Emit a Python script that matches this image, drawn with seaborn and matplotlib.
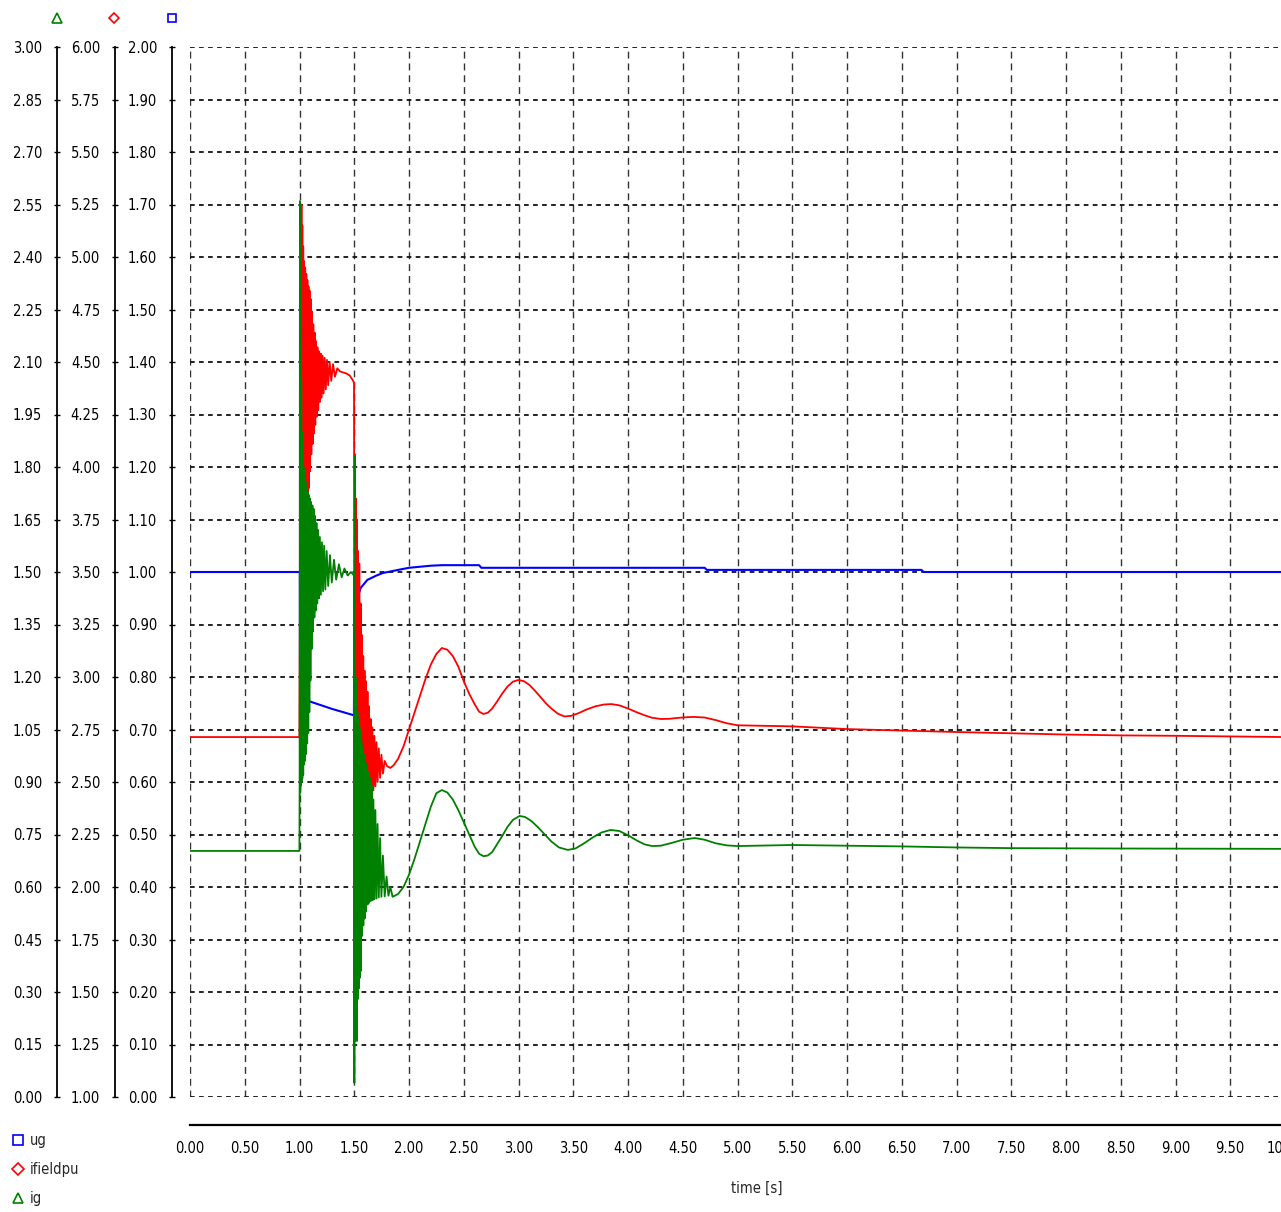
import os
import numpy as np
import pandas as pd
import matplotlib
matplotlib.use("Agg")
import matplotlib.pyplot as plt
import seaborn as sns
from matplotlib import font_manager
from matplotlib.lines import Line2D

# ---------------- data ----------------
ig_t = [0.0, 0.999, 1.001, 1.004, 1.007, 1.010, 1.013, 1.016, 1.019, 1.022, 1.026, 1.030,
        1.034, 1.038, 1.042, 1.046, 1.050, 1.055, 1.060, 1.065, 1.070, 1.075, 1.080, 1.085,
        1.090, 1.095, 1.100, 1.106, 1.112, 1.118, 1.124, 1.130, 1.136, 1.142, 1.148, 1.155,
        1.162, 1.170, 1.178, 1.186, 1.195, 1.205, 1.215, 1.225, 1.236, 1.248, 1.262, 1.278,
        1.295, 1.315, 1.335, 1.360, 1.385, 1.410, 1.440, 1.470, 1.497,
        1.501, 1.505, 1.509, 1.513, 1.517, 1.521, 1.525, 1.529, 1.533, 1.537, 1.541, 1.545,
        1.550, 1.555, 1.560, 1.565, 1.571, 1.577, 1.583, 1.589, 1.595, 1.601, 1.608, 1.615,
        1.622, 1.629, 1.636, 1.643, 1.651, 1.659, 1.667, 1.675, 1.684, 1.693, 1.703, 1.713,
        1.724, 1.736, 1.748, 1.762, 1.778, 1.795, 1.812, 1.830, 1.850,
        1.90, 1.95, 2.00, 2.05, 2.10, 2.15, 2.20, 2.25, 2.30, 2.35, 2.40, 2.45, 2.50, 2.55,
        2.60, 2.64, 2.68, 2.72, 2.76, 2.80, 2.85, 2.90, 2.95, 3.01, 3.06, 3.12, 3.18, 3.24,
        3.30, 3.37, 3.45, 3.52, 3.60, 3.68, 3.76, 3.84, 3.92, 4.00, 4.08, 4.15, 4.22, 4.30,
        4.40, 4.50, 4.61, 4.70, 4.80, 4.90, 5.00, 5.50, 6.00, 6.50, 7.00, 7.50, 8.50, 10.0]
ig_v = [0.703, 0.703, 0.88, 2.56, 0.87, 2.30, 0.89, 2.05, 0.90, 1.90, 0.91, 1.82,
        0.92, 1.80, 0.95, 1.77, 0.96, 1.76, 0.98, 1.74, 1.01, 1.73, 1.04, 1.72,
        1.10, 1.71, 1.19, 1.70, 1.28, 1.69, 1.33, 1.68, 1.37, 1.66, 1.39, 1.64,
        1.41, 1.62, 1.425, 1.60, 1.435, 1.585, 1.445, 1.575, 1.45, 1.56, 1.46, 1.548,
        1.47, 1.535, 1.478, 1.522, 1.485, 1.51, 1.49, 1.50, 1.49,
        0.04, 1.83, 0.16, 1.20, 0.22, 1.16, 0.16, 1.10, 0.28, 1.08, 0.31, 1.06,
        0.34, 1.05, 0.36, 1.02, 0.46, 1.00, 0.49, 0.98, 0.51, 0.96, 0.53, 0.95,
        0.55, 0.93, 0.555, 0.91, 0.56, 0.89, 0.562, 0.85, 0.565, 0.82, 0.567, 0.78,
        0.57, 0.74, 0.572, 0.69, 0.573, 0.63, 0.575, 0.60, 0.572,
        0.58, 0.60, 0.635, 0.68, 0.73, 0.78, 0.83, 0.868, 0.877, 0.87, 0.85, 0.82, 0.785, 0.75,
        0.715, 0.695, 0.688, 0.69, 0.70, 0.72, 0.745, 0.772, 0.792, 0.803, 0.80, 0.788, 0.77, 0.75,
        0.73, 0.713, 0.706, 0.71, 0.725, 0.742, 0.756, 0.763, 0.76, 0.748, 0.733, 0.722, 0.717, 0.718,
        0.726, 0.735, 0.74, 0.735, 0.725, 0.719, 0.717, 0.72, 0.718, 0.716, 0.713, 0.711, 0.710, 0.709]

if_t = [0.0, 0.999, 1.004, 1.010, 1.014, 1.018, 1.022, 1.026, 1.030, 1.034, 1.038, 1.042,
        1.047, 1.052, 1.057, 1.062, 1.067, 1.072, 1.077, 1.082, 1.087, 1.092, 1.097, 1.102,
        1.108, 1.114, 1.120, 1.126, 1.132, 1.138, 1.144, 1.150, 1.157, 1.164, 1.171, 1.178,
        1.186, 1.194, 1.202, 1.211, 1.220, 1.230, 1.240, 1.251, 1.262, 1.275, 1.290, 1.306,
        1.324, 1.345, 1.370, 1.400, 1.430, 1.460, 1.490, 1.498,
        1.503, 1.507, 1.511, 1.516, 1.520, 1.525, 1.530, 1.535, 1.540, 1.546, 1.552, 1.558,
        1.564, 1.570, 1.576, 1.582, 1.588, 1.594, 1.600, 1.607, 1.614, 1.621, 1.628, 1.635,
        1.642, 1.650, 1.658, 1.666, 1.675, 1.684, 1.693, 1.703, 1.713, 1.724, 1.736, 1.748,
        1.762, 1.778, 1.800, 1.830, 1.860,
        1.90, 1.95, 2.00, 2.05, 2.10, 2.15, 2.20, 2.25, 2.30, 2.35, 2.40, 2.45, 2.50, 2.55,
        2.60, 2.64, 2.68, 2.72, 2.76, 2.80, 2.85, 2.90, 2.95, 3.00, 3.05, 3.10, 3.15, 3.20,
        3.25, 3.30, 3.36, 3.42, 3.48, 3.55, 3.62, 3.70, 3.78, 3.85, 3.92, 4.00, 4.08, 4.15,
        4.22, 4.30, 4.38, 4.45, 4.52, 4.60, 4.70, 4.80, 4.90, 5.00, 5.20, 5.50, 6.00, 6.50,
        7.00, 7.50, 8.00, 8.50, 9.00, 10.0]
if_v = [2.714, 2.714, 3.34, 4.90, 3.40, 5.25, 3.36, 5.15, 3.40, 5.05, 3.50, 4.98,
        3.58, 4.95, 3.66, 4.92, 3.72, 4.89, 3.82, 4.86, 3.90, 4.84, 3.98, 4.80,
        4.06, 4.74, 4.11, 4.68, 4.16, 4.64, 4.20, 4.60, 4.24, 4.57, 4.27, 4.55,
        4.31, 4.54, 4.33, 4.53, 4.35, 4.52, 4.37, 4.51, 4.39, 4.50, 4.41, 4.49,
        4.43, 4.47, 4.455, 4.45, 4.445, 4.435, 4.41, 4.40,
        2.10, 4.06, 2.00, 3.85, 2.02, 3.75, 2.08, 3.60, 2.12, 3.54, 2.16, 3.35,
        2.22, 3.20, 2.27, 3.10, 2.30, 3.03, 2.32, 2.98, 2.34, 2.93, 2.37, 2.86,
        2.40, 2.80, 2.44, 2.76, 2.46, 2.72, 2.48, 2.69, 2.50, 2.66, 2.52, 2.63,
        2.54, 2.60, 2.575, 2.567, 2.58,
        2.61, 2.67, 2.75, 2.83, 2.91, 2.99, 3.06, 3.11, 3.138, 3.13, 3.10, 3.05, 2.98, 2.92,
        2.87, 2.835, 2.824, 2.83, 2.85, 2.88, 2.92, 2.955, 2.978, 2.986, 2.98, 2.962, 2.935, 2.905,
        2.875, 2.85, 2.825, 2.812, 2.815, 2.828, 2.845, 2.86, 2.869, 2.871, 2.865, 2.85, 2.832, 2.818,
        2.806, 2.80, 2.801, 2.805, 2.808, 2.81, 2.807, 2.795, 2.78, 2.77, 2.768, 2.765, 2.752, 2.745,
        2.738, 2.732, 2.726, 2.722, 2.72, 2.714]

ug_t = [0.0, 1.003, 1.005, 1.007, 1.009, 1.011, 1.014, 1.020, 1.030, 1.050, 1.100, 1.200,
        1.300, 1.400, 1.497, 1.502, 1.506, 1.530, 1.560, 1.620, 1.700, 1.760, 1.900, 2.000,
        2.200, 2.300, 2.640, 2.660, 4.700, 4.720, 6.680, 6.700, 10.0]
ug_v = [1.0, 1.0, 0.80, 0.74, 0.79, 0.755, 0.775, 0.76, 0.762, 0.758, 0.753, 0.746,
        0.739, 0.733, 0.727, 0.922, 0.90, 0.952, 0.970, 0.985, 0.993, 0.998, 1.004, 1.008,
        1.012, 1.013, 1.013, 1.008, 1.008, 1.004, 1.004, 1.000, 1.000]

x_ticks = np.round(np.arange(0, 10.001, 0.5), 2)
ig_ticks = np.round(np.arange(0, 3.0001, 0.15), 2)
if_ticks = np.round(np.arange(1, 6.0001, 0.25), 2)
ug_ticks = np.round(np.arange(0, 2.0001, 0.1), 2)
legend_labels = ["ug", "ifieldpu", "ig"]
x_label = "time [s]"

GREEN, RED, BLUE = "#008000", "#ff0000", "#0000ff"

# ---------------- style / fonts ----------------
sns.set_style("white")
fam, stretch = "DejaVu Sans", "normal"
for f in font_manager.fontManager.ttflist:
    b = os.path.basename(f.fname)
    if b.startswith("LiberationSansNarrow-Regular"):
        fam, stretch = f.name, f.stretch
        break
else:
    for f in font_manager.fontManager.ttflist:
        if os.path.basename(f.fname) == "DejaVuSansCondensed.ttf":
            fam, stretch = f.name, f.stretch
            break
plt.rcParams["font.family"] = [fam, "DejaVu Sans"]
plt.rcParams["font.stretch"] = stretch
FS = 10.5

W, H = 1281, 1212
fig = plt.figure(figsize=(W / 100, H / 100), dpi=100)
# main axes carries ug (drawn lowest); twins carry ifieldpu and ig (ig on top)
ax = fig.add_axes([190 / W, 1 - 1097 / H, 1095 / W, 1050 / H])
ax_if = ax.twinx()
ax_ig = ax.twinx()

df_ig = pd.DataFrame({"t": ig_t, "v": ig_v})
df_if = pd.DataFrame({"t": if_t, "v": if_v})
df_ug = pd.DataFrame({"t": ug_t, "v": ug_v})

sns.lineplot(data=df_ug, x="t", y="v", ax=ax, color=BLUE, lw=1.5, estimator=None, sort=False)
sns.lineplot(data=df_if, x="t", y="v", ax=ax_if, color=RED, lw=1.3, estimator=None, sort=False)
sns.lineplot(data=df_ig, x="t", y="v", ax=ax_ig, color=GREEN, lw=1.3, estimator=None, sort=False)

ax.set_xlim(0, 10)
ax.set_ylim(0, 2)
ax_if.set_ylim(1, 6)
ax_ig.set_ylim(0, 3)

# grid (21 shared horizontal lines)
ax.set_axisbelow(True)
ax.set_yticks(ug_ticks)
ax.set_xticks(x_ticks)
ax.grid(axis="y", color="#111111", lw=1.3, linestyle=(0, (2.6, 2.4)))
ax.grid(axis="x", color="#333333", lw=1.0, linestyle=(0, (5, 3.5)))

# spines
for a in (ax, ax_if, ax_ig):
    for s in ("top", "right"):
        a.spines[s].set_visible(False)
for a in (ax_if, ax_ig):
    a.spines["bottom"].set_visible(False)
    a.spines["left"].set_visible(True)
    a.yaxis.set_ticks_position("left")
    a.yaxis.set_label_position("left")
    a.grid(False)

ax_ig.spines["left"].set_position(("axes", (57 - 190) / 1095))
ax_if.spines["left"].set_position(("axes", (115 - 190) / 1095))
ax.spines["left"].set_position(("axes", (172 - 190) / 1095))
ax.spines["bottom"].set_position(("outward", 20))
for a in (ax, ax_if, ax_ig):
    a.spines["left"].set_color("black")
    a.spines["left"].set_linewidth(1.3)
ax.spines["bottom"].set_color("black")
ax.spines["bottom"].set_linewidth(1.6)

ax_if.set_yticks(if_ticks)
ax_ig.set_yticks(ig_ticks)
for a in (ax, ax_if, ax_ig):
    a.yaxis.set_major_formatter("{x:.2f}")
    a.tick_params(axis="y", which="major", direction="inout", length=4.5, width=1.0,
                  pad=8.5, labelsize=FS, colors="black", left=True, right=False)
    a.set_ylabel("")
ax.xaxis.set_major_formatter("{x:.2f}")
ax.tick_params(axis="x", direction="inout", length=5, width=1.0, pad=9.5,
               labelsize=FS, colors="black")

ax.set_xlabel(x_label, fontsize=FS)
ax.xaxis.set_label_coords((757 - 190) / 1095, (1097 - 1181) / 1050)

# key markers above each y axis
for xpix, mk, col, ms in ((57, "^", GREEN, 6.5), (114, "D", RED, 5.5), (172, "s", BLUE, 6)):
    fig.add_artist(Line2D([xpix / W], [1 - 18 / H], transform=fig.transFigure, ls="none",
                          marker=mk, ms=ms, mfc="none", mec=col, mew=1.2))

# legend bottom-left
handles = [
    Line2D([], [], ls="none", marker="s", ms=6.5, mfc="none", mec=BLUE, mew=1.2),
    Line2D([], [], ls="none", marker="D", ms=6.0, mfc="none", mec=RED, mew=1.2),
    Line2D([], [], ls="none", marker="^", ms=7, mfc="none", mec=GREEN, mew=1.2),
]
fig.legend(handles, legend_labels, loc="upper left", bbox_to_anchor=(11 / W, 1 - 1133 / H),
           frameon=False, fontsize=FS, handlelength=0.9, handletextpad=0.4,
           labelspacing=0.95, borderpad=0, borderaxespad=0)

fig.savefig("out.png", dpi=100)
